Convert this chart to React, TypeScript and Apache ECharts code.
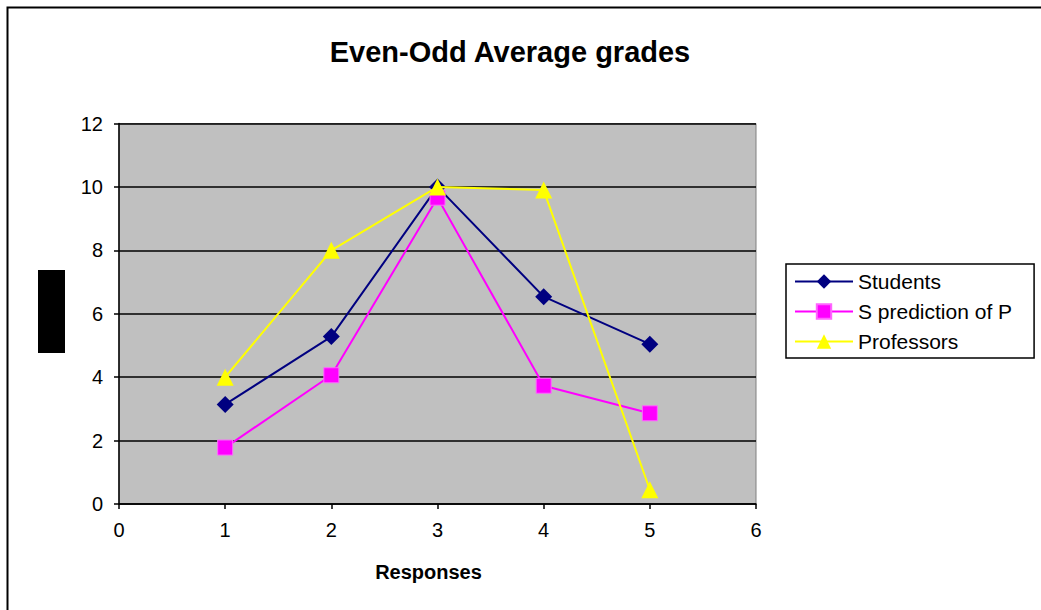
import React, { useEffect, useRef } from "react";
import * as echarts from "echarts";

const responses = [1, 2, 3, 4, 5];
const students = [3.14, 5.28, 10.0, 6.54, 5.04];
const sPrediction = [1.78, 4.06, 9.66, 3.73, 2.86];
const professors = [4.0, 8.0, 10.0, 9.9, 0.45];
const seriesNames = ["Students", "S prediction of P", "Professors"];

const pairs = (ys: number[]) => responses.map((x, i) => [x, ys[i]]);

export default function App() {
  const ref = useRef<HTMLDivElement>(null);
  useEffect(() => {
    if (!ref.current) return;
    const chart = echarts.init(ref.current, null, { renderer: "svg" });
    const font = "Arial, 'Liberation Sans', sans-serif";
    chart.setOption({
      animation: false,
      backgroundColor: "#ffffff",
      textStyle: { fontFamily: font },
      title: {
        text: "Even-Odd Average grades",
        left: 505,
        textAlign: "center",
        top: 32,
        textStyle: { fontSize: 29, fontWeight: "bold", color: "#000", fontFamily: font },
      },
      grid: {
        left: 119,
        right: 285,
        top: 123.5,
        bottom: 106,
        show: true,
        backgroundColor: "#C0C0C0",
        borderColor: "#808080",
        borderWidth: 1,
      },
      legend: {
        orient: "vertical",
        left: 786,
        top: 264,
        data: seriesNames,
        itemWidth: 58,
        itemHeight: 18,
        itemGap: 9,
        padding: [7, 22, 6, 8],
        borderColor: "#000",
        borderWidth: 1.5,
        backgroundColor: "#fff",
        textStyle: { fontSize: 21, color: "#000", fontFamily: font },
      },
      xAxis: {
        type: "value",
        min: 0,
        max: 6,
        interval: 1,
        name: "Responses",
        nameLocation: "middle",
        nameGap: 58,
        nameTextStyle: { fontSize: 20, fontWeight: "bold", color: "#000", padding: [0, 18, 0, 0] },
        axisLine: { show: true, lineStyle: { color: "#000", width: 1.5 } },
        axisTick: { show: true, length: 5, lineStyle: { color: "#000", width: 1.5 } },
        axisLabel: { fontSize: 20, color: "#000", margin: 16 },
        splitLine: { show: false },
      },
      yAxis: {
        type: "value",
        min: 0,
        max: 12,
        interval: 2,
        axisLine: { show: true, lineStyle: { color: "#000", width: 1.5 } },
        axisTick: { show: true, length: 5, lineStyle: { color: "#000", width: 1.5 } },
        axisLabel: { fontSize: 20, color: "#000", margin: 16 },
        splitLine: { show: true, lineStyle: { color: "#000", width: 1.5 } },
      },
      graphic: [
        {
          type: "rect",
          left: 5,
          top: 5,
          shape: { x: 0, y: 0, width: 1045, height: 615 },
          style: { fill: "none", stroke: "#000", lineWidth: 2 },
          silent: true,
          z: -10,
        },
        {
          type: "rect",
          shape: { x: 38, y: 270, width: 27, height: 83 },
          style: { fill: "#000" },
          silent: true,
        },
      ],
      series: [
        {
          name: seriesNames[0],
          type: "line",
          data: pairs(students),
          symbol: "diamond",
          symbolSize: 17,
          lineStyle: { color: "#000080", width: 2 },
          itemStyle: { color: "#000080" },
          z: 2,
        },
        {
          name: seriesNames[1],
          type: "line",
          data: pairs(sPrediction),
          symbol: "rect",
          symbolSize: 15,
          lineStyle: { color: "#FF00FF", width: 2 },
          itemStyle: { color: "#FF00FF", borderColor: "#FF66FF", borderWidth: 1 },
          z: 3,
        },
        {
          name: seriesNames[2],
          type: "line",
          data: pairs(professors),
          symbol: "triangle",
          symbolSize: 17,
          lineStyle: { color: "#FFFF00", width: 2 },
          itemStyle: { color: "#FFFF00" },
          z: 4,
        },
      ],
    });
    return () => chart.dispose();
  }, []);
  return (
    <div
      ref={ref}
      style={{ position: "fixed", left: 0, top: 0, width: 1041, height: 610 }}
    />
  );
}
